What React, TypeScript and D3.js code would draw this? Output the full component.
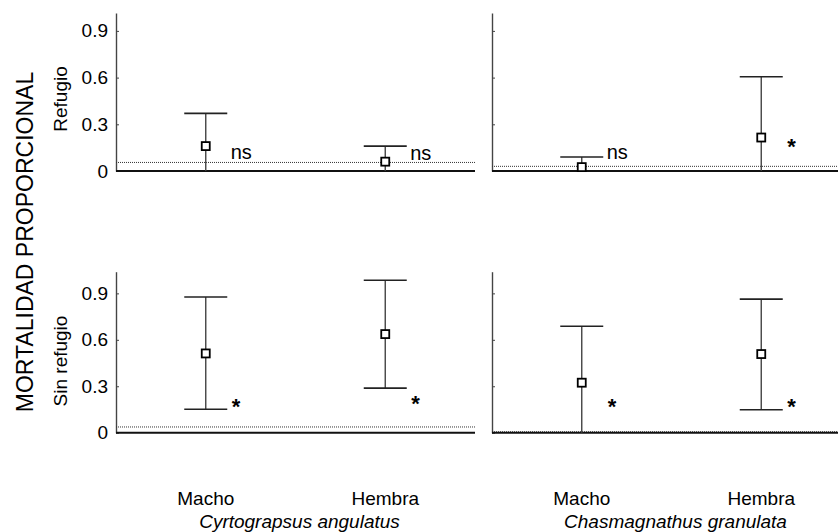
import React, { useEffect, useRef } from 'react';
import * as d3 from 'd3';

// groups in each row: [C. angulatus macho, C. angulatus hembra, C. granulata macho, C. granulata hembra]
const sexes = ['Macho', 'Hembra'];
const species = ['Cyrtograpsus angulatus', 'Chasmagnathus granulata'];
const conditions = ['Refugio', 'Sin refugio'];
const yTicks = [0, 0.3, 0.6, 0.9];

const meanRefugio = [0.16, 0.06, 0.025, 0.215];
const lowRefugio = [0, 0, 0, 0];
const highRefugio = [0.37, 0.16, 0.09, 0.605];
const nullRefugio = [0.055, 0.03];
const sigRefugio = ['ns', 'ns', 'ns', '*'];
const sigAtRefugio = [0.077, 0.071, 0.077, 0.107];

const meanSinRefugio = [0.512, 0.637, 0.323, 0.508];
const lowSinRefugio = [0.151, 0.288, 0, 0.148];
const highSinRefugio = [0.877, 0.985, 0.688, 0.863];
const nullSinRefugio = [0.037, 0.006];
const sigSinRefugio = ['*', '*', '*', '*'];
const sigAtSinRefugio = [0.12, 0.137, 0.12, 0.12];

const FONT = 'Liberation Sans, Arial, Helvetica, sans-serif';

const Chart = ({ width = 838, height = 532 }) => {
  const ref = useRef<SVGSVGElement>(null);

  useEffect(() => {
    const svg = d3.select(ref.current)
      .attr('width', width)
      .attr('height', height);

    svg.selectAll('*').remove();

    const panelW = 359;
    const panelX = [116, 492];
    const rows = [
      { mean: meanRefugio, low: lowRefugio, high: highRefugio, nul: nullRefugio, sig: sigRefugio, sigAt: sigAtRefugio,
        y: d3.scaleLinear().domain([0, 1.015]).range([171, 13]) },
      { mean: meanSinRefugio, low: lowSinRefugio, high: highSinRefugio, nul: nullSinRefugio, sig: sigSinRefugio, sigAt: sigAtSinRefugio,
        y: d3.scaleLinear().domain([0, 1.04]).range([432.7, 271.7]) },
    ];

    rows.forEach((row, r) => {
      const y = row.y;

      species.forEach((sp, s) => {
        const x = d3.scalePoint()
          .domain(sexes)
          .range([panelX[s], panelX[s] + panelW])
          .padding(0.5);

        const g = svg.append('g');

        // y axis, labels only on the left column
        const axis = d3.axisLeft(y)
          .tickValues(yTicks)
          .tickSizeInner(-3)
          .tickSizeOuter(0)
          .tickPadding(8)
          .tickFormat(s === 0 ? (d => d === 0 ? '0' : d3.format('.1f')(d as number)) : () => '');

        const ax = g.append('g')
          .attr('transform', `translate(${panelX[s]},0)`)
          .call(axis);
        ax.select('.domain').attr('stroke', '#444').attr('stroke-width', 1.4);
        ax.selectAll('.tick line').attr('stroke', '#444').attr('stroke-width', 1);
        ax.selectAll('.tick text')
          .attr('fill', '#000')
          .style('font-family', FONT)
          .style('font-size', '19px');

        // null reference line
        g.append('line')
          .attr('x1', panelX[s])
          .attr('x2', panelX[s] + panelW)
          .attr('y1', y(row.nul[s]))
          .attr('y2', y(row.nul[s]))
          .attr('stroke', '#333')
          .attr('stroke-width', 1)
          .attr('stroke-dasharray', '1,1');

        // baseline
        g.append('line')
          .attr('x1', panelX[s])
          .attr('x2', panelX[s] + panelW)
          .attr('y1', y(0))
          .attr('y2', y(0))
          .attr('stroke', '#111')
          .attr('stroke-width', 2);

        sexes.forEach((sex, k) => {
          const i = s * 2 + k;
          const cx = x(sex) as number;

          g.append('line')
            .attr('x1', cx).attr('x2', cx)
            .attr('y1', y(row.low[i])).attr('y2', y(row.high[i]))
            .attr('stroke', '#444')
            .attr('stroke-width', 1.4);

          [row.low[i], row.high[i]].forEach(v => {
            if (v === 0) return;
            g.append('line')
              .attr('x1', cx - 21.5).attr('x2', cx + 21.5)
              .attr('y1', y(v)).attr('y2', y(v))
              .attr('stroke', '#222')
              .attr('stroke-width', 1.6);
          });

          g.append('rect')
            .attr('x', cx - 4)
            .attr('y', y(row.mean[i]) - 4)
            .attr('width', 8)
            .attr('height', 8)
            .attr('fill', 'white')
            .attr('stroke', '#000')
            .attr('stroke-width', 1.8);

          const star = row.sig[i] === '*';
          g.append('text')
            .attr('x', cx + (star ? 26 : 25))
            .attr('y', y(row.sigAt[i]))
            .attr('fill', '#000')
            .style('font-family', FONT)
            .style('font-size', star ? '22px' : '20px')
            .style('font-weight', star ? 'bold' : 'normal')
            .text(row.sig[i]);

          if (r === 1) {
            svg.append('text')
              .attr('x', cx)
              .attr('y', 505)
              .attr('text-anchor', 'middle')
              .style('font-family', FONT)
              .style('font-size', '19px')
              .text(sex);
          }
        });

        if (r === 1) {
          svg.append('text')
            .attr('x', panelX[s] + panelW / 2 + 4)
            .attr('y', 528)
            .attr('text-anchor', 'middle')
            .style('font-family', FONT)
            .style('font-size', '19px')
            .style('font-style', 'italic')
            .text(sp);
        }
      });

      // row label
      svg.append('text')
        .attr('transform', `translate(67,${r === 0 ? 99 : 361}) rotate(-90)`)
        .attr('text-anchor', 'middle')
        .style('font-family', FONT)
        .style('font-size', '19px')
        .text(conditions[r]);
    });

    svg.append('text')
      .attr('transform', 'translate(33,242) rotate(-90)')
      .attr('text-anchor', 'middle')
      .style('font-family', FONT)
      .style('font-size', '23px')
      .text('MORTALIDAD PROPORCIONAL');
  }, [width, height]);

  return <svg ref={ref} style={{ position: 'absolute', left: 0, top: 0, background: '#fff' }}></svg>;
};

export default function App() {
  return <Chart />;
}
